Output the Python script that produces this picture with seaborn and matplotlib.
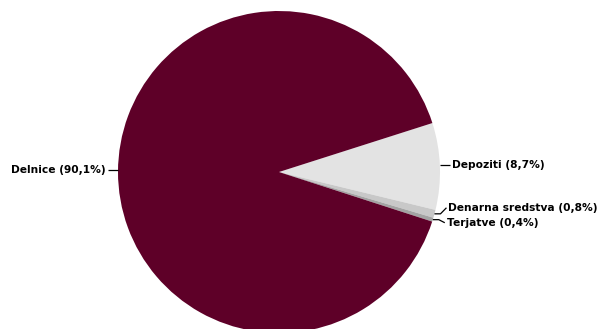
import numpy as np
import matplotlib
matplotlib.use("Agg")
import matplotlib.pyplot as plt
import seaborn as sns

categories = ["Depoziti", "Denarna sredstva", "Terjatve", "Delnice"]
shares = [8.7, 0.8, 0.4, 90.1]
colors = ["#E3E3E3", "#C8C8C8", "#A3A3A3", "#5E0028"]
label_texts = ["Depoziti (8,7%)", "Denarna sredstva (0,8%)", "Terjatve (0,4%)", "Delnice (90,1%)"]

sns.set_style("white")
plt.rcParams['font.family'] = ['DejaVu Sans']

W, H = 603, 329
fig = plt.figure(figsize=(W / 100, H / 100), dpi=100)
ax = fig.add_axes([0, 0, 1, 1])

cx, cy, R = 279, H - 172, 161
wedges, _ = ax.pie(shares, colors=colors, startangle=17.7, counterclock=False,
                   center=(cx, cy), radius=R,
                   wedgeprops=dict(linewidth=0, antialiased=True))
ax.set_xlim(0, W)
ax.set_ylim(0, H)
ax.set_aspect('equal')
ax.axis('off')

# label anchors from wedge geometry
anchors = []
for w in wedges:
    mid = np.deg2rad((w.theta1 + w.theta2) / 2)
    ex, ey = cx + R * np.cos(mid), cy + R * np.sin(mid)
    anchors.append([ex, ey, np.cos(mid) >= 0])

# spread labels on the right side so they don't overlap
right = sorted([i for i, a in enumerate(anchors) if a[2]], key=lambda i: -anchors[i][1])
ly = {i: anchors[i][1] for i in range(len(anchors))}
min_gap = 15
for k in range(1, len(right)):
    a, b = right[k - 1], right[k]
    if ly[a] - ly[b] < min_gap:
        c = (ly[a] + ly[b]) / 2
        ly[a] = c + min_gap / 2
        ly[b] = c - min_gap / 2

text_lift = 1.5
for i, (ex, ey, is_right) in enumerate(anchors):
    s = 1 if is_right else -1
    y_t = ly[i] + text_lift
    if abs(ly[i] - ey) < 3:
        x3 = ex + s * 10
        ax.plot([ex, x3], [y_t, y_t], color="black", lw=0.9, solid_capstyle='butt')
    else:
        x2 = ex + s * 6
        x3 = ex + s * 12
        ax.plot([ex, x2, x3], [ey, ey, y_t], color="black", lw=0.9, solid_capstyle='butt')
    ax.text(x3 + s * 2, y_t, label_texts[i], ha='left' if is_right else 'right',
            va='center', fontsize=7.7, fontweight='bold', color="black")

fig.savefig("out.png", dpi=100, facecolor="white")
